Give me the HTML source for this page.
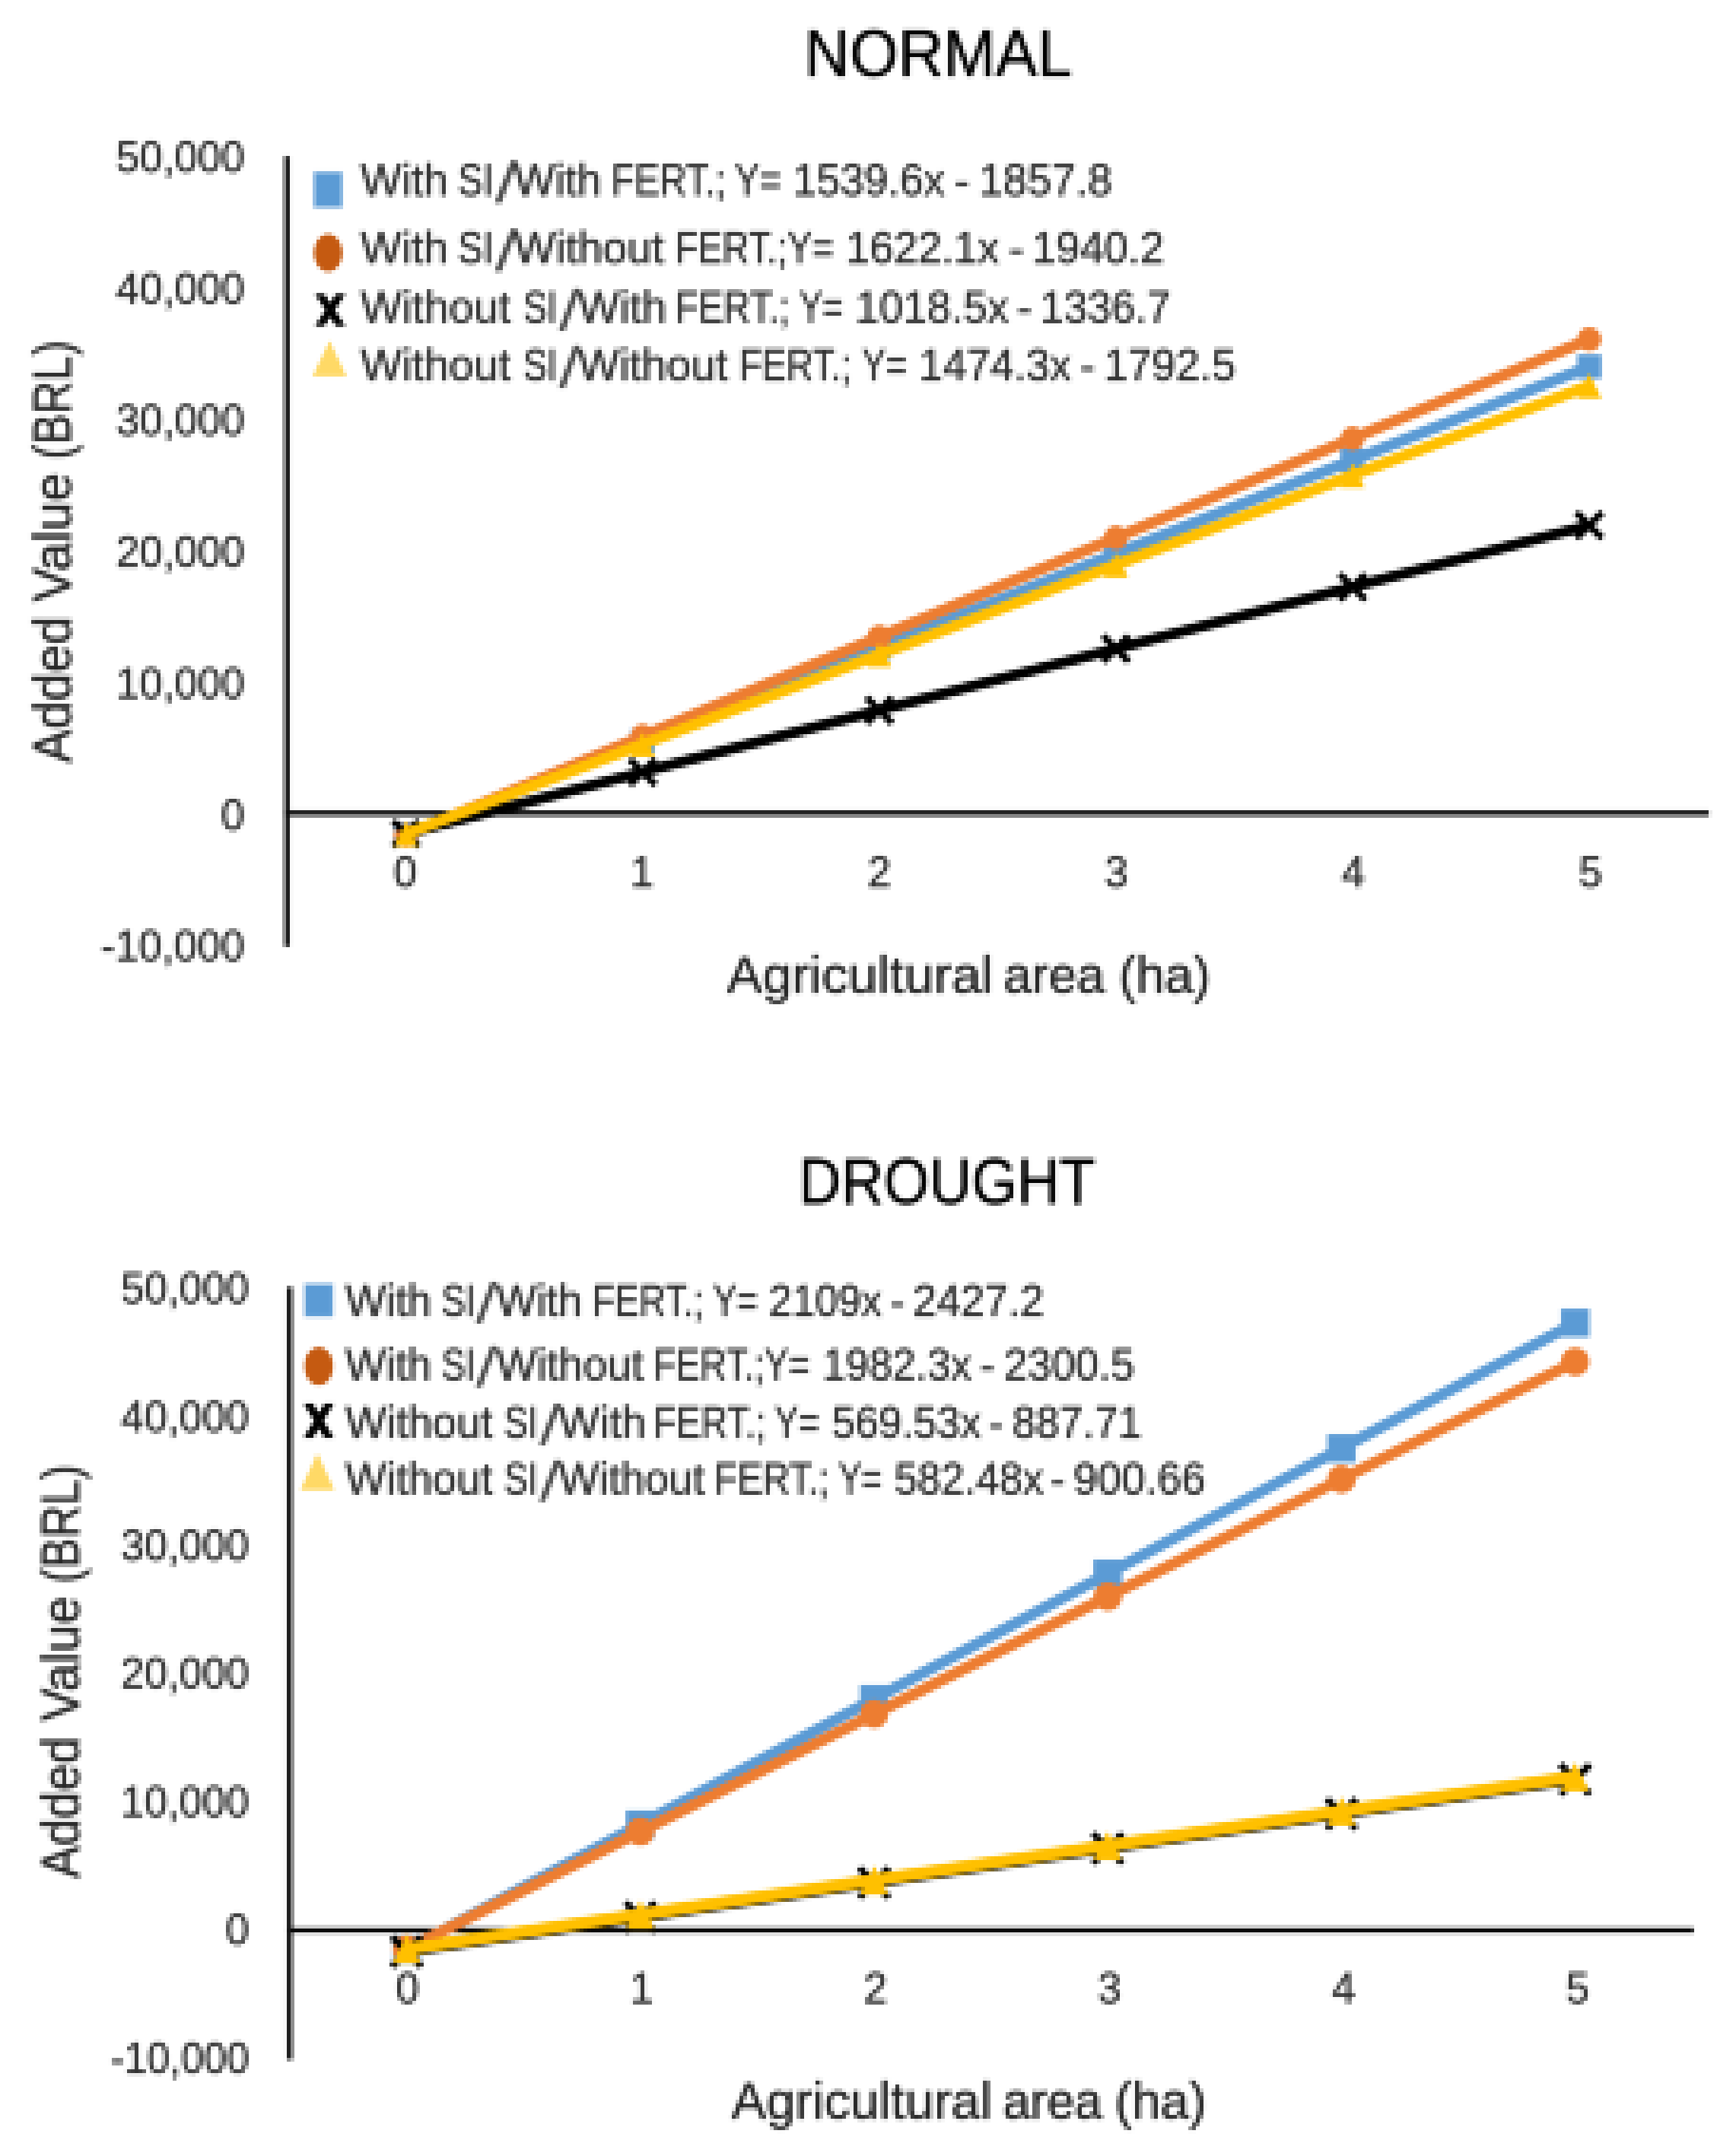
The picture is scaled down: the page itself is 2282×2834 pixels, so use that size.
<!DOCTYPE html>
<html lang="en"><head><meta charset="utf-8"><title>Added value vs agricultural area</title>
<style>html,body{margin:0;padding:0;background:#fff}body{width:2282px;height:2834px;overflow:hidden}svg{display:block}text{font-family:"Liberation Sans",sans-serif;}</style>
</head><body>
<svg width="2282" height="2834" viewBox="0 0 2282 2834">
<defs>
<filter id="pixA" x="0" y="0" width="2282" height="1418" filterUnits="userSpaceOnUse" color-interpolation-filters="sRGB">
<feGaussianBlur in="SourceGraphic" stdDeviation="1.4" result="b"/>
<feFlood x="3" y="2" width="1" height="1" flood-color="#000" result="d"/>
<feOffset in="d" dx="0" dy="0" x="1" y="0" width="5" height="5" result="t0"/>
<feTile in="t0" x="0" y="0" width="2282" height="1418" result="t"/>
<feComposite in="b" in2="t" operator="in" result="s"/>
<feMorphology in="s" operator="dilate" radius="2"/>
</filter>
<filter id="pixB" x="0" y="1418" width="2282" height="1416" filterUnits="userSpaceOnUse" color-interpolation-filters="sRGB">
<feGaussianBlur in="SourceGraphic" stdDeviation="1.4" result="b"/>
<feFlood x="4" y="1422" width="1" height="1" flood-color="#000" result="d"/>
<feOffset in="d" dx="0" dy="0" x="2" y="1420" width="5" height="5" result="t0"/>
<feTile in="t0" x="0" y="1418" width="2282" height="1416" result="t"/>
<feComposite in="b" in2="t" operator="in" result="s"/>
<feMorphology in="s" operator="dilate" radius="2"/>
</filter>
</defs>
<rect width="2282" height="2834" fill="#fff"/>
<g filter="url(#pixA)">
<path d="M377.2 205.5V1244" stroke="#0a0a0a" stroke-width="6.9" fill="none"/>
<path d="M373.75 1069H2246.5" stroke="#0a0a0a" stroke-width="6.9" fill="none"/>
<text x="1233.5" y="100" font-size="86.5" text-anchor="middle" fill="#000000" stroke="#000000" stroke-width="0.9" textLength="352" lengthAdjust="spacingAndGlyphs">NORMAL</text>
<text x="321.5" y="226.3" font-size="57" text-anchor="end" fill="#303030" stroke="#303030" stroke-width="0.9" textLength="169" lengthAdjust="spacingAndGlyphs">50,000</text>
<text x="321.5" y="399.2" font-size="57" text-anchor="end" fill="#303030" stroke="#303030" stroke-width="0.9" textLength="169" lengthAdjust="spacingAndGlyphs">40,000</text>
<text x="321.5" y="572.0" font-size="57" text-anchor="end" fill="#303030" stroke="#303030" stroke-width="0.9" textLength="169" lengthAdjust="spacingAndGlyphs">30,000</text>
<text x="321.5" y="744.9" font-size="57" text-anchor="end" fill="#303030" stroke="#303030" stroke-width="0.9" textLength="169" lengthAdjust="spacingAndGlyphs">20,000</text>
<text x="321.5" y="917.7" font-size="57" text-anchor="end" fill="#303030" stroke="#303030" stroke-width="0.9" textLength="169" lengthAdjust="spacingAndGlyphs">10,000</text>
<text x="321.5" y="1090.6" font-size="57" text-anchor="end" fill="#303030" stroke="#303030" stroke-width="0.9" textLength="31" lengthAdjust="spacingAndGlyphs">0</text>
<text x="321.5" y="1263.4" font-size="57" text-anchor="end" fill="#303030" stroke="#303030" stroke-width="0.9" textLength="189" lengthAdjust="spacingAndGlyphs">-10,000</text>
<text x="532.7" y="1166" font-size="57" text-anchor="middle" fill="#303030" stroke="#303030" stroke-width="0.9" textLength="31" lengthAdjust="spacingAndGlyphs">0</text>
<text x="844.3" y="1166" font-size="57" text-anchor="middle" fill="#303030" stroke="#303030" stroke-width="0.9" textLength="31" lengthAdjust="spacingAndGlyphs">1</text>
<text x="1155.9" y="1166" font-size="57" text-anchor="middle" fill="#303030" stroke="#303030" stroke-width="0.9" textLength="31" lengthAdjust="spacingAndGlyphs">2</text>
<text x="1467.5" y="1166" font-size="57" text-anchor="middle" fill="#303030" stroke="#303030" stroke-width="0.9" textLength="31" lengthAdjust="spacingAndGlyphs">3</text>
<text x="1779.1" y="1166" font-size="57" text-anchor="middle" fill="#303030" stroke="#303030" stroke-width="0.9" textLength="31" lengthAdjust="spacingAndGlyphs">4</text>
<text x="2090.7" y="1166" font-size="57" text-anchor="middle" fill="#303030" stroke="#303030" stroke-width="0.9" textLength="31" lengthAdjust="spacingAndGlyphs">5</text>
<text x="955.5" y="1304.5" font-size="68" text-anchor="start" fill="#262626" stroke="#262626" stroke-width="0.9" textLength="349.9" lengthAdjust="spacingAndGlyphs">Agricultural</text>
<text x="1319.3" y="1304.5" font-size="68" text-anchor="start" fill="#262626" stroke="#262626" stroke-width="0.9" textLength="133.1" lengthAdjust="spacingAndGlyphs">area</text>
<text x="1470.8" y="1304.5" font-size="68" text-anchor="start" fill="#262626" stroke="#262626" stroke-width="0.9" textLength="120.6" lengthAdjust="spacingAndGlyphs">(ha)</text>
<g transform="translate(93 1004.7) rotate(-90)">
<text y="0" font-size="70" fill="#262626" stroke="#262626" stroke-width="0.9"><tspan x="1.4" y="0" textLength="193.2" lengthAdjust="spacingAndGlyphs">Added</tspan> <tspan x="213.3" y="0" textLength="169.9" lengthAdjust="spacingAndGlyphs">Value</tspan> <tspan x="400.6" y="0" textLength="156.7" lengthAdjust="spacingAndGlyphs">(BRL)</tspan></text>
</g>
<text y="257" font-size="60" fill="#303030" stroke="#303030" stroke-width="0.9"><tspan x="473.8" y="257" textLength="115.2" lengthAdjust="spacingAndGlyphs">With</tspan> <tspan x="602.1" y="257" textLength="46.7" lengthAdjust="spacingAndGlyphs">SI</tspan><tspan x="650.3" y="266.2" font-size="76.2" stroke="none" fill="#4a4a4a" textLength="30.1" lengthAdjust="spacingAndGlyphs">/</tspan><tspan x="675.6" y="257" textLength="115.1" lengthAdjust="spacingAndGlyphs">With</tspan> <tspan x="803.8" y="257" textLength="150.1" lengthAdjust="spacingAndGlyphs">FERT.;</tspan> <tspan x="965.7" y="257" textLength="61.2" lengthAdjust="spacingAndGlyphs">Y=</tspan> <tspan x="1042.2" y="257" textLength="200.0" lengthAdjust="spacingAndGlyphs">1539.6x</tspan> <tspan x="1254.7" y="257" textLength="20.0" lengthAdjust="spacingAndGlyphs">-</tspan> <tspan x="1286.7" y="257" textLength="175.3" lengthAdjust="spacingAndGlyphs">1857.8</tspan></text>
<text y="346.3" font-size="60" fill="#303030" stroke="#303030" stroke-width="0.9"><tspan x="473.8" y="346.3" textLength="115.2" lengthAdjust="spacingAndGlyphs">With</tspan> <tspan x="602.1" y="346.3" textLength="46.7" lengthAdjust="spacingAndGlyphs">SI</tspan><tspan x="650.3" y="355.5" font-size="76.2" stroke="none" fill="#4a4a4a" textLength="30.1" lengthAdjust="spacingAndGlyphs">/</tspan><tspan x="675.6" y="346.3" textLength="197.5" lengthAdjust="spacingAndGlyphs">Without</tspan> <tspan x="887.8" y="346.3" textLength="208.0" lengthAdjust="spacingAndGlyphs">FERT.;Y=</tspan> <tspan x="1111.8" y="346.3" textLength="201.9" lengthAdjust="spacingAndGlyphs">1622.1x</tspan> <tspan x="1326.0" y="346.3" textLength="20.0" lengthAdjust="spacingAndGlyphs">-</tspan> <tspan x="1356.4" y="346.3" textLength="173.9" lengthAdjust="spacingAndGlyphs">1940.2</tspan></text>
<text y="424.3" font-size="60" fill="#303030" stroke="#303030" stroke-width="0.9"><tspan x="473.8" y="424.3" textLength="197.6" lengthAdjust="spacingAndGlyphs">Without</tspan> <tspan x="687.9" y="424.3" textLength="44.6" lengthAdjust="spacingAndGlyphs">SI</tspan><tspan x="734.2" y="433.5" font-size="76.2" stroke="none" fill="#4a4a4a" textLength="28.3" lengthAdjust="spacingAndGlyphs">/</tspan><tspan x="759.5" y="424.3" textLength="117.0" lengthAdjust="spacingAndGlyphs">With</tspan> <tspan x="887.7" y="424.3" textLength="150.2" lengthAdjust="spacingAndGlyphs">FERT.;</tspan> <tspan x="1050.5" y="424.3" textLength="57.8" lengthAdjust="spacingAndGlyphs">Y=</tspan> <tspan x="1124.2" y="424.3" textLength="201.9" lengthAdjust="spacingAndGlyphs">1018.5x</tspan> <tspan x="1336.5" y="424.3" textLength="20.0" lengthAdjust="spacingAndGlyphs">-</tspan> <tspan x="1367.2" y="424.3" textLength="171.9" lengthAdjust="spacingAndGlyphs">1336.7</tspan></text>
<text y="499.5" font-size="60" fill="#303030" stroke="#303030" stroke-width="0.9"><tspan x="473.8" y="499.5" textLength="197.6" lengthAdjust="spacingAndGlyphs">Without</tspan> <tspan x="687.9" y="499.5" textLength="44.6" lengthAdjust="spacingAndGlyphs">SI</tspan><tspan x="734.2" y="508.7" font-size="76.2" stroke="none" fill="#4a4a4a" textLength="28.3" lengthAdjust="spacingAndGlyphs">/</tspan><tspan x="759.5" y="499.5" textLength="197.6" lengthAdjust="spacingAndGlyphs">Without</tspan> <tspan x="971.7" y="499.5" textLength="147.5" lengthAdjust="spacingAndGlyphs">FERT.;</tspan> <tspan x="1133.0" y="499.5" textLength="59.3" lengthAdjust="spacingAndGlyphs">Y=</tspan> <tspan x="1208.2" y="499.5" textLength="200.0" lengthAdjust="spacingAndGlyphs">1474.3x</tspan> <tspan x="1419.8" y="499.5" textLength="20.0" lengthAdjust="spacingAndGlyphs">-</tspan> <tspan x="1451.1" y="499.5" textLength="173.3" lengthAdjust="spacingAndGlyphs">1792.5</tspan></text>
<rect x="413" y="226.5" width="36.5" height="46.0" fill="#5B9BD5" stroke="#9DC3E6" stroke-width="2"/>
<ellipse cx="431.3" cy="332.4" rx="18.6" ry="24.8" fill="#C55A11"/>
<path d="M414.0 386.5H426.5L454.0 428.5H441.5ZM441.5 386.5H454.0L426.5 428.5H414.0Z" fill="#000"/>
<path d="M433.2 448L455.5 494.5L411 494.5Z" fill="#FFD966"/>
<polyline points="533.8,1097.0 844.8,974.0 1155.9,851.0 1467.0,728.0 1778.0,605.0 2089.1,482.0" fill="none" stroke="#5B9BD5" stroke-width="15" stroke-linejoin="round" stroke-linecap="butt"/>
<rect x="518.0" y="1081.2" width="31.5" height="31.5" fill="#5B9BD5"/>
<rect x="829.1" y="958.2" width="31.5" height="31.5" fill="#5B9BD5"/>
<rect x="1140.2" y="835.2" width="31.5" height="31.5" fill="#5B9BD5"/>
<rect x="1451.2" y="712.2" width="31.5" height="31.5" fill="#5B9BD5"/>
<rect x="1762.2" y="589.2" width="31.5" height="31.5" fill="#5B9BD5"/>
<rect x="2073.3" y="466.2" width="31.5" height="31.5" fill="#5B9BD5"/>
<polyline points="533.8,1098.0 844.8,967.6 1155.9,837.2 1467.0,706.8 1778.0,576.4 2089.1,446.0" fill="none" stroke="#ED7D31" stroke-width="15" stroke-linejoin="round" stroke-linecap="butt"/>
<ellipse cx="533.8" cy="1098.0" rx="15.75" ry="15.75" fill="#ED7D31"/>
<ellipse cx="844.8" cy="967.6" rx="15.75" ry="15.75" fill="#ED7D31"/>
<ellipse cx="1155.9" cy="837.2" rx="15.75" ry="15.75" fill="#ED7D31"/>
<ellipse cx="1467.0" cy="706.8" rx="15.75" ry="15.75" fill="#ED7D31"/>
<ellipse cx="1778.0" cy="576.4" rx="15.75" ry="15.75" fill="#ED7D31"/>
<ellipse cx="2089.1" cy="446.0" rx="15.75" ry="15.75" fill="#ED7D31"/>
<polyline points="533.8,1096.0 844.8,1014.9 1155.9,933.8 1467.0,852.7 1778.0,771.6 2089.1,690.5" fill="none" stroke="#000000" stroke-width="14" stroke-linejoin="round" stroke-linecap="butt"/>
<path d="M516.8 1079.0L550.8 1113.0M516.8 1113.0L550.8 1079.0" stroke="#000000" stroke-width="9" fill="none" stroke-linecap="butt"/>
<path d="M827.8 997.9L861.8 1031.9M827.8 1031.9L861.8 997.9" stroke="#000000" stroke-width="9" fill="none" stroke-linecap="butt"/>
<path d="M1138.9 916.8L1172.9 950.8M1138.9 950.8L1172.9 916.8" stroke="#000000" stroke-width="9" fill="none" stroke-linecap="butt"/>
<path d="M1450.0 835.7L1484.0 869.7M1450.0 869.7L1484.0 835.7" stroke="#000000" stroke-width="9" fill="none" stroke-linecap="butt"/>
<path d="M1761.0 754.6L1795.0 788.6M1761.0 788.6L1795.0 754.6" stroke="#000000" stroke-width="9" fill="none" stroke-linecap="butt"/>
<path d="M2072.1 673.5L2106.1 707.5M2072.1 707.5L2106.1 673.5" stroke="#000000" stroke-width="9" fill="none" stroke-linecap="butt"/>
<polyline points="533.8,1096.0 844.8,978.2 1155.9,860.4 1467.0,742.6 1778.0,624.8 2089.1,507.0" fill="none" stroke="#FFC000" stroke-width="15" stroke-linejoin="round" stroke-linecap="butt"/>
<path d="M533.8 1080.0L549.8 1112.5L517.8 1112.5Z" fill="#FFC000"/>
<path d="M844.8 962.2L860.8 994.8L828.8 994.8Z" fill="#FFC000"/>
<path d="M1155.9 844.4L1171.9 876.9L1139.9 876.9Z" fill="#FFC000"/>
<path d="M1467.0 726.6L1483.0 759.1L1451.0 759.1Z" fill="#FFC000"/>
<path d="M1778.0 608.8L1794.0 641.3L1762.0 641.3Z" fill="#FFC000"/>
<path d="M2089.1 491.1L2105.1 523.5L2073.1 523.5Z" fill="#FFC000"/>
</g>
<g filter="url(#pixB)">
<path d="M380.9 1691.8V2707.5" stroke="#0a0a0a" stroke-width="6.9" fill="none"/>
<path d="M377.45 2537.2H2226.2" stroke="#0a0a0a" stroke-width="6.9" fill="none"/>
<text x="1245" y="1582.3" font-size="86" text-anchor="middle" fill="#000000" stroke="#000000" stroke-width="0.9" textLength="390" lengthAdjust="spacingAndGlyphs">DROUGHT</text>
<text x="327.5" y="1713.4" font-size="56.5" text-anchor="end" fill="#303030" stroke="#303030" stroke-width="0.9" textLength="168.5" lengthAdjust="spacingAndGlyphs">50,000</text>
<text x="327.5" y="1882.0" font-size="56.5" text-anchor="end" fill="#303030" stroke="#303030" stroke-width="0.9" textLength="168.5" lengthAdjust="spacingAndGlyphs">40,000</text>
<text x="327.5" y="2050.6" font-size="56.5" text-anchor="end" fill="#303030" stroke="#303030" stroke-width="0.9" textLength="168.5" lengthAdjust="spacingAndGlyphs">30,000</text>
<text x="327.5" y="2219.2" font-size="56.5" text-anchor="end" fill="#303030" stroke="#303030" stroke-width="0.9" textLength="168.5" lengthAdjust="spacingAndGlyphs">20,000</text>
<text x="327.5" y="2387.8" font-size="56.5" text-anchor="end" fill="#303030" stroke="#303030" stroke-width="0.9" textLength="168.5" lengthAdjust="spacingAndGlyphs">10,000</text>
<text x="327.5" y="2556.4" font-size="56.5" text-anchor="end" fill="#303030" stroke="#303030" stroke-width="0.9" textLength="31" lengthAdjust="spacingAndGlyphs">0</text>
<text x="327.5" y="2725.0" font-size="56.5" text-anchor="end" fill="#303030" stroke="#303030" stroke-width="0.9" textLength="182" lengthAdjust="spacingAndGlyphs">-10,000</text>
<text x="535.8" y="2633" font-size="56.5" text-anchor="middle" fill="#303030" stroke="#303030" stroke-width="0.9" textLength="31" lengthAdjust="spacingAndGlyphs">0</text>
<text x="843.4" y="2633" font-size="56.5" text-anchor="middle" fill="#303030" stroke="#303030" stroke-width="0.9" textLength="31" lengthAdjust="spacingAndGlyphs">1</text>
<text x="1151.0" y="2633" font-size="56.5" text-anchor="middle" fill="#303030" stroke="#303030" stroke-width="0.9" textLength="31" lengthAdjust="spacingAndGlyphs">2</text>
<text x="1458.6" y="2633" font-size="56.5" text-anchor="middle" fill="#303030" stroke="#303030" stroke-width="0.9" textLength="31" lengthAdjust="spacingAndGlyphs">3</text>
<text x="1766.2" y="2633" font-size="56.5" text-anchor="middle" fill="#303030" stroke="#303030" stroke-width="0.9" textLength="31" lengthAdjust="spacingAndGlyphs">4</text>
<text x="2073.8" y="2633" font-size="56.5" text-anchor="middle" fill="#303030" stroke="#303030" stroke-width="0.9" textLength="31" lengthAdjust="spacingAndGlyphs">5</text>
<text x="961.5" y="2784.5" font-size="68" text-anchor="start" fill="#262626" stroke="#262626" stroke-width="0.9" textLength="342.4" lengthAdjust="spacingAndGlyphs">Agricultural</text>
<text x="1318.3" y="2784.5" font-size="68" text-anchor="start" fill="#262626" stroke="#262626" stroke-width="0.9" textLength="130.6" lengthAdjust="spacingAndGlyphs">area</text>
<text x="1465.3" y="2784.5" font-size="68" text-anchor="start" fill="#262626" stroke="#262626" stroke-width="0.9" textLength="120.6" lengthAdjust="spacingAndGlyphs">(ha)</text>
<g transform="translate(103.8 2470.6) rotate(-90)">
<text y="0" font-size="70" fill="#262626" stroke="#262626" stroke-width="0.9"><tspan x="1.4" y="0" textLength="186.1" lengthAdjust="spacingAndGlyphs">Added</tspan> <tspan x="207.8" y="0" textLength="164.4" lengthAdjust="spacingAndGlyphs">Value</tspan> <tspan x="389.2" y="0" textLength="156.2" lengthAdjust="spacingAndGlyphs">(BRL)</tspan></text>
</g>
<text y="1730" font-size="59" fill="#303030" stroke="#303030" stroke-width="0.9"><tspan x="453.8" y="1730" textLength="113.4" lengthAdjust="spacingAndGlyphs">With</tspan> <tspan x="580.4" y="1730" textLength="44.4" lengthAdjust="spacingAndGlyphs">SI</tspan><tspan x="625.0" y="1739.3" font-size="74.8" stroke="none" fill="#4a4a4a" textLength="28.3" lengthAdjust="spacingAndGlyphs">/</tspan><tspan x="652.0" y="1730" textLength="113.4" lengthAdjust="spacingAndGlyphs">With</tspan> <tspan x="778.6" y="1730" textLength="146.3" lengthAdjust="spacingAndGlyphs">FERT.;</tspan> <tspan x="936.9" y="1730" textLength="59.3" lengthAdjust="spacingAndGlyphs">Y=</tspan> <tspan x="1010.8" y="1730" textLength="148.6" lengthAdjust="spacingAndGlyphs">2109x</tspan> <tspan x="1170.1" y="1730" textLength="19.6" lengthAdjust="spacingAndGlyphs">-</tspan> <tspan x="1200.1" y="1730" textLength="172.3" lengthAdjust="spacingAndGlyphs">2427.2</tspan></text>
<text y="1814" font-size="59" fill="#303030" stroke="#303030" stroke-width="0.9"><tspan x="453.8" y="1814" textLength="113.4" lengthAdjust="spacingAndGlyphs">With</tspan> <tspan x="580.4" y="1814" textLength="44.4" lengthAdjust="spacingAndGlyphs">SI</tspan><tspan x="625.0" y="1823.3" font-size="74.8" stroke="none" fill="#4a4a4a" textLength="28.3" lengthAdjust="spacingAndGlyphs">/</tspan><tspan x="652.0" y="1814" textLength="193.9" lengthAdjust="spacingAndGlyphs">Without</tspan> <tspan x="859.0" y="1814" textLength="205.9" lengthAdjust="spacingAndGlyphs">FERT.;Y=</tspan> <tspan x="1080.9" y="1814" textLength="196.3" lengthAdjust="spacingAndGlyphs">1982.3x</tspan> <tspan x="1288.0" y="1814" textLength="19.6" lengthAdjust="spacingAndGlyphs">-</tspan> <tspan x="1319.7" y="1814" textLength="171.7" lengthAdjust="spacingAndGlyphs">2300.5</tspan></text>
<text y="1889.6" font-size="59" fill="#303030" stroke="#303030" stroke-width="0.9"><tspan x="453.8" y="1889.6" textLength="194.1" lengthAdjust="spacingAndGlyphs">Without</tspan> <tspan x="662.6" y="1889.6" textLength="44.4" lengthAdjust="spacingAndGlyphs">SI</tspan><tspan x="708.8" y="1898.9" font-size="74.8" stroke="none" fill="#4a4a4a" textLength="28.4" lengthAdjust="spacingAndGlyphs">/</tspan><tspan x="734.1" y="1889.6" textLength="115.1" lengthAdjust="spacingAndGlyphs">With</tspan> <tspan x="858.9" y="1889.6" textLength="148.2" lengthAdjust="spacingAndGlyphs">FERT.;</tspan> <tspan x="1018.0" y="1889.6" textLength="59.3" lengthAdjust="spacingAndGlyphs">Y=</tspan> <tspan x="1093.6" y="1889.6" textLength="196.1" lengthAdjust="spacingAndGlyphs">569.53x</tspan> <tspan x="1299.6" y="1889.6" textLength="19.6" lengthAdjust="spacingAndGlyphs">-</tspan> <tspan x="1330.8" y="1889.6" textLength="170.0" lengthAdjust="spacingAndGlyphs">887.71</tspan></text>
<text y="1963.6" font-size="59" fill="#303030" stroke="#303030" stroke-width="0.9"><tspan x="453.8" y="1963.6" textLength="194.1" lengthAdjust="spacingAndGlyphs">Without</tspan> <tspan x="662.6" y="1963.6" textLength="44.4" lengthAdjust="spacingAndGlyphs">SI</tspan><tspan x="708.8" y="1972.9" font-size="74.8" stroke="none" fill="#4a4a4a" textLength="28.4" lengthAdjust="spacingAndGlyphs">/</tspan><tspan x="734.1" y="1963.6" textLength="192.2" lengthAdjust="spacingAndGlyphs">Without</tspan> <tspan x="939.1" y="1963.6" textLength="150.8" lengthAdjust="spacingAndGlyphs">FERT.;</tspan> <tspan x="1101.9" y="1963.6" textLength="57.5" lengthAdjust="spacingAndGlyphs">Y=</tspan> <tspan x="1175.7" y="1963.6" textLength="196.1" lengthAdjust="spacingAndGlyphs">582.48x</tspan> <tspan x="1380.8" y="1963.6" textLength="19.6" lengthAdjust="spacingAndGlyphs">-</tspan> <tspan x="1410.9" y="1963.6" textLength="173.6" lengthAdjust="spacingAndGlyphs">900.66</tspan></text>
<rect x="400.5" y="1688" width="37.0" height="42.5" fill="#5B9BD5" stroke="#9DC3E6" stroke-width="2"/>
<ellipse cx="419" cy="1795.8" rx="19" ry="25" fill="#C55A11"/>
<path d="M399.0 1845.0H411.5L439.0 1890.0H426.5ZM426.5 1845.0H439.0L411.5 1890.0H399.0Z" fill="#000"/>
<path d="M417.2 1910L439.5 1958.5L395 1958.5Z" fill="#FFD966"/>
<polyline points="534.6,2563.0 841.8,2398.2 1149.0,2233.4 1456.2,2068.6 1763.4,1903.8 2070.6,1739.0" fill="none" stroke="#5B9BD5" stroke-width="15" stroke-linejoin="round" stroke-linecap="butt"/>
<rect x="515.9" y="2544.4" width="37.5" height="37.2" fill="#5B9BD5"/>
<rect x="823.0" y="2379.6" width="37.5" height="37.2" fill="#5B9BD5"/>
<rect x="1130.2" y="2214.8" width="37.5" height="37.2" fill="#5B9BD5"/>
<rect x="1437.4" y="2050.0" width="37.5" height="37.2" fill="#5B9BD5"/>
<rect x="1744.7" y="1885.2" width="37.5" height="37.2" fill="#5B9BD5"/>
<rect x="2051.8" y="1720.4" width="37.5" height="37.2" fill="#5B9BD5"/>
<polyline points="534.6,2562.0 841.8,2407.6 1149.0,2253.2 1456.2,2098.8 1763.4,1944.4 2070.6,1790.0" fill="none" stroke="#ED7D31" stroke-width="15" stroke-linejoin="round" stroke-linecap="butt"/>
<ellipse cx="534.6" cy="2562.0" rx="18.75" ry="18.6" fill="#ED7D31"/>
<ellipse cx="841.8" cy="2407.6" rx="18.75" ry="18.6" fill="#ED7D31"/>
<ellipse cx="1149.0" cy="2253.2" rx="18.75" ry="18.6" fill="#ED7D31"/>
<ellipse cx="1456.2" cy="2098.8" rx="18.75" ry="18.6" fill="#ED7D31"/>
<ellipse cx="1763.4" cy="1944.4" rx="18.75" ry="18.6" fill="#ED7D31"/>
<ellipse cx="2070.6" cy="1790.0" rx="18.75" ry="18.6" fill="#ED7D31"/>
<polyline points="534.6,2565.5 841.8,2520.2 1149.0,2474.9 1456.2,2429.6 1763.4,2384.3 2070.6,2339.0" fill="none" stroke="#000000" stroke-width="14" stroke-linejoin="round" stroke-linecap="butt"/>
<path d="M515.1 2546.0L554.1 2585.0M515.1 2585.0L554.1 2546.0" stroke="#000000" stroke-width="9" fill="none" stroke-linecap="butt"/>
<path d="M822.3 2500.7L861.3 2539.7M822.3 2539.7L861.3 2500.7" stroke="#000000" stroke-width="9" fill="none" stroke-linecap="butt"/>
<path d="M1129.5 2455.4L1168.5 2494.4M1129.5 2494.4L1168.5 2455.4" stroke="#000000" stroke-width="9" fill="none" stroke-linecap="butt"/>
<path d="M1436.7 2410.1L1475.7 2449.1M1436.7 2449.1L1475.7 2410.1" stroke="#000000" stroke-width="9" fill="none" stroke-linecap="butt"/>
<path d="M1743.9 2364.8L1782.9 2403.8M1743.9 2403.8L1782.9 2364.8" stroke="#000000" stroke-width="9" fill="none" stroke-linecap="butt"/>
<path d="M2051.1 2319.5L2090.1 2358.5M2051.1 2358.5L2090.1 2319.5" stroke="#000000" stroke-width="9" fill="none" stroke-linecap="butt"/>
<polyline points="534.6,2562.0 841.8,2516.7 1149.0,2471.4 1456.2,2426.1 1763.4,2380.8 2070.6,2335.5" fill="none" stroke="#FFC000" stroke-width="16.5" stroke-linejoin="round" stroke-linecap="butt"/>
<path d="M534.6 2543.0L553.1 2581.0L516.1 2581.0Z" fill="#FFC000"/>
<path d="M841.8 2497.7L860.3 2535.7L823.3 2535.7Z" fill="#FFC000"/>
<path d="M1149.0 2452.4L1167.5 2490.4L1130.5 2490.4Z" fill="#FFC000"/>
<path d="M1456.2 2407.1L1474.7 2445.1L1437.7 2445.1Z" fill="#FFC000"/>
<path d="M1763.4 2361.8L1781.9 2399.8L1744.9 2399.8Z" fill="#FFC000"/>
<path d="M2070.6 2316.5L2089.1 2354.5L2052.1 2354.5Z" fill="#FFC000"/>
</g>
</svg></body></html>
